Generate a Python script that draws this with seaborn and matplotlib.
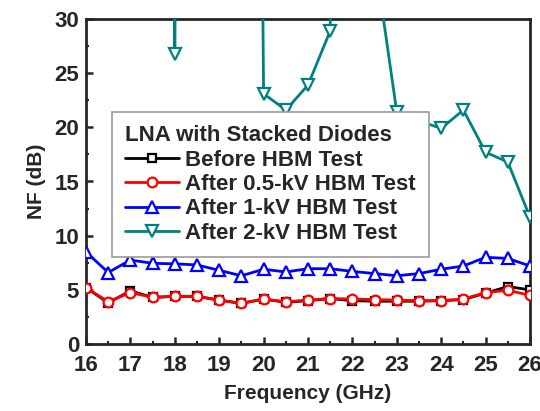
import numpy as np
import pandas as pd
import matplotlib
matplotlib.use("Agg")
import matplotlib.pyplot as plt
import seaborn as sns
from matplotlib.ticker import MultipleLocator

freq = [16, 16.5, 17, 17.5, 18, 18.5, 19, 19.5, 20, 20.5, 21, 21.5, 22, 22.5, 23, 23.5, 24, 24.5, 25, 25.5, 26]
before = [5.2, 3.8, 4.9, 4.3, 4.4, 4.4, 4.05, 3.75, 4.15, 3.85, 4.0, 4.2, 4.0, 3.95, 3.95, 3.95, 4.0, 4.1, 4.7, 5.3, 5.0]
after05 = [5.2, 3.9, 4.75, 4.3, 4.4, 4.4, 4.05, 3.75, 4.15, 3.9, 4.05, 4.2, 4.15, 4.1, 4.05, 4.0, 4.0, 4.15, 4.75, 4.95, 4.5]
after1 = [8.5, 6.6, 7.75, 7.45, 7.4, 7.3, 6.8, 6.3, 6.9, 6.65, 6.95, 6.95, 6.7, 6.5, 6.3, 6.5, 6.9, 7.2, 8.0, 7.9, 7.2]
after2 = [90, 120, 160, 250, 26.8, 250, 200, 250, 23.1, 21.6, 23.9, 28.9, 300, 35.7, 21.4, 20.6, 19.9, 21.6, 17.7, 16.8, 11.7]

labels = ["Before HBM Test", "After 0.5-kV HBM Test", "After 1-kV HBM Test", "After 2-kV HBM Test"]
colors = ["black", "#ff0000", "#0000ff", "#008080"]
markers = ["s", "o", "^", "v"]
msizes = [6, 7, 8.5, 8.5]
series = [before, after05, after1, after2]

sns.set_style("ticks")
plt.rcParams['font.family'] = ['Liberation Sans', 'DejaVu Sans']
plt.rcParams['font.weight'] = 'bold'

fig = plt.figure(figsize=(5.4, 4.11), dpi=100)
ax = fig.add_axes([86/540, 1-344/411, (530-86)/540, (344-19)/411])

order = [3, 2, 0, 1]
for i in order:
    df = pd.DataFrame({"f": freq, "nf": series[i]})
    sns.lineplot(data=df, x="f", y="nf", ax=ax, color=colors[i], marker=markers[i],
                 markersize=msizes[i], markerfacecolor="white", markeredgecolor=colors[i],
                 markeredgewidth=1.6, linewidth=2, label=labels[i], zorder=3 + (1 if i == 1 else 0))

ax.set_xlim(16, 26)
ax.set_ylim(0, 30)
ax.xaxis.set_major_locator(MultipleLocator(1))
ax.xaxis.set_minor_locator(MultipleLocator(0.5))
ax.yaxis.set_major_locator(MultipleLocator(5))
ax.yaxis.set_minor_locator(MultipleLocator(2.5))
ax.tick_params(which='major', direction='in', length=5, width=1.8, labelsize=16, pad=5)
ax.tick_params(axis='x', which='major', pad=8)
ax.tick_params(which='minor', direction='in', length=2.5, width=1.5)
for s in ax.spines.values():
    s.set_linewidth(2)
    s.set_visible(True)
for lab in ax.get_xticklabels() + ax.get_yticklabels():
    lab.set_fontweight('bold')
ax.set_xlabel("Frequency (GHz)", fontsize=15, fontweight='bold', labelpad=6)
ax.set_ylabel("NF (dB)", fontsize=15, fontweight='bold', labelpad=6)

h, l = ax.get_legend_handles_labels()
hd = dict(zip(l, h))
leg = ax.legend([hd[x] for x in labels], labels, title="LNA with Stacked Diodes",
                loc="upper left", bbox_to_anchor=((112-86)/444, (344-112)/325),
                frameon=True, fancybox=False, edgecolor="#999999", framealpha=1,
                prop={'weight': 'bold', 'size': 16}, handlelength=2.4, handletextpad=0.27,
                labelspacing=0.15, borderpad=0.6, borderaxespad=0)
leg.get_title().set_fontweight('bold')
leg.get_title().set_fontsize(16)
leg._legend_box.align = "left"
leg.get_frame().set_linewidth(1.2)
leg.set_zorder(10)

fig.savefig("out.png", dpi=100)
